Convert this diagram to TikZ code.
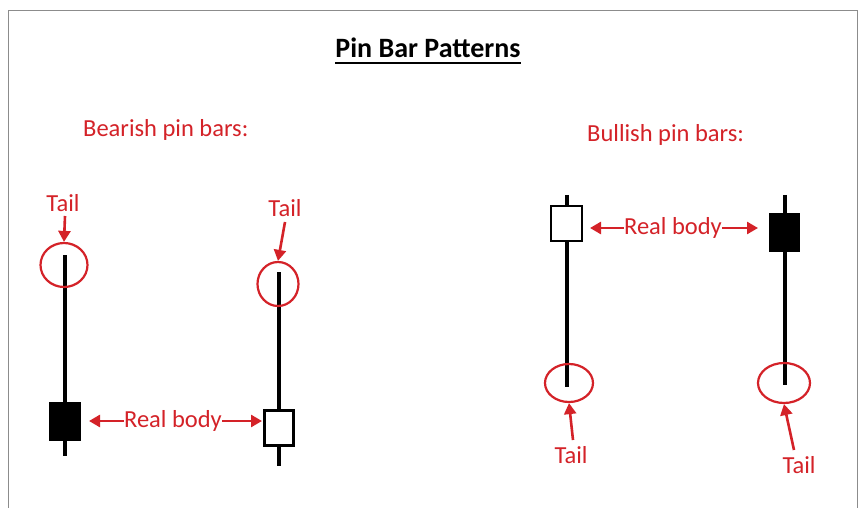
\documentclass[tikz,border=0pt]{standalone}
\usepackage{fontspec}
\setmainfont{Carlito}
\usetikzlibrary{arrows.meta,shapes.geometric}
\definecolor{pinred}{RGB}{212,34,40}
\definecolor{framegray}{RGB}{140,140,140}
\tikzset{
  redlabel/.style={text=pinred, font=\fontsize{24.5}{28}\selectfont, inner sep=0pt},
  wick/.style={line width=3.6pt, black},
  bodyblack/.style={draw=black, fill=black, line width=2.5pt, inner sep=0pt},
  bodywhite/.style={draw=black, fill=white, line width=2.8pt, inner sep=0pt},
  tailring/.style={draw=pinred, line width=2.2pt, ellipse, inner sep=0pt},
  redarrow/.style={draw=pinred, line width=2.6pt, -{Triangle[length=11pt,width=12pt]}},
}
\begin{document}
\begin{tikzpicture}[x=1pt,y=-1pt]
\useasboundingbox (0,0) rectangle (863,508);
\fill[white] (0,0) rectangle (863,508);
% frame
\draw[framegray, line width=0.8pt] (8,510) -- (8,10) -- (857,10) -- (857,510);

% title
\node[font=\bfseries\fontsize{28}{32}\selectfont, inner sep=0pt, anchor=base] (title) at (428,58) {Pin Bar Patterns};
\draw[line width=2.2pt] (title.west |- 0,63) coordinate (ul1) -- (title.east |- 0,63) coordinate (ul2);

% section labels
\node[redlabel, anchor=west] (bear) at (83,130) {Bearish pin bars:};
\node[redlabel, anchor=west] (bull) at (587,135) {Bullish pin bars:};

% ---- candle 1 (bearish, black body)
\coordinate (w1t) at (65,255);
\coordinate (w1b) at (65,456);
\draw[wick] (w1t) -- (w1b);
\node[bodyblack, minimum width=29pt, minimum height=36pt] (b1) at (65,421.5) {};
\node[tailring, minimum width=47pt, minimum height=44pt] (c1) at (64,265) {};
\node[redlabel] (t1) at (63,203) {Tail};
\draw[redarrow] (65,216) -- (c1.north);

% ---- candle 2 (bearish, white body)
\coordinate (w2t) at (279,272);
\coordinate (w2b) at (279,466);
\draw[wick] (w2t) -- (w2b);
\node[bodywhite, minimum width=29pt, minimum height=35pt] (b2) at (279,428) {};
\node[tailring, minimum width=41pt, minimum height=44pt] (c2) at (278,284) {};
\node[redlabel] (t2) at (285,208) {Tail};
\draw[redarrow] (285,222) -- (c2.north);

% real body (bearish)
\node[redlabel] (rb1) at (173,421) {Real body};
\draw[redarrow] (rb1.west) -- (89,421);
\draw[redarrow] (rb1.east) -- (262,421);

% ---- candle 3 (bullish, white body)
\coordinate (w3t) at (567,195);
\coordinate (w3b) at (567,387);
\draw[wick] (w3t) -- (w3b);
\node[bodywhite, minimum width=31pt, minimum height=35pt] (b3) at (566.5,223.5) {};
\node[tailring, minimum width=48pt, minimum height=38pt] (c3) at (569,383) {};
\node[redlabel] (t3) at (571,455) {Tail};
\draw[redarrow] (573,440) -- (c3.south);

% ---- candle 4 (bullish, black body)
\coordinate (w4t) at (785,195);
\coordinate (w4b) at (785,385);
\draw[wick] (w4t) -- (w4b);
\node[bodyblack, minimum width=29pt, minimum height=37pt] (b4) at (784.5,232.5) {};
\node[tailring, minimum width=52pt, minimum height=40pt] (c4) at (784,383) {};
\node[redlabel] (t4) at (799,465) {Tail};
\draw[redarrow] (794,450) -- (c4.south);

% real body (bullish)
\node[redlabel] (rb2) at (673,228) {Real body};
\draw[redarrow] (rb2.west) -- (590,228);
\draw[redarrow] (rb2.east) -- (758,228);
\end{tikzpicture}
\end{document}
